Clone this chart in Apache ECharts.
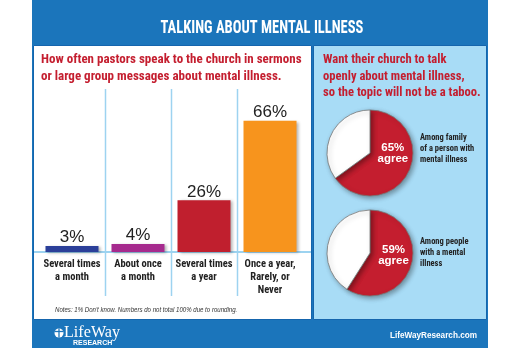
<!DOCTYPE html>
<html><head><meta charset="utf-8">
<script src="https://cdn.jsdelivr.net/npm/echarts@6/dist/echarts.min.js"></script>
<style>html,body{margin:0;padding:0;background:#fff}#c{width:520px;height:350px}</style>
</head><body><div id="c"></div>
<script>
// ---- data ----
const titleText = 'TALKING ABOUT MENTAL ILLNESS';
const leftHeading = 'How often pastors speak to the church in sermons\nor large group messages about mental illness.';
const rightHeading = 'Want their church to talk\nopenly about mental illness,\nso the topic will not be a taboo.';
const categories = ['Several times\na month', 'About once\na month', 'Several times\na year', 'Once a year,\nRarely, or\nNever'];
const barValues = [3, 4, 26, 66];
const barColors = ['#2b3f99', '#a62a8e', '#c01f2e', '#f7941d'];
const pieGroups = ['Among family\nof a person with\nmental illness', 'Among people\nwith a mental\nillness'];
const agreeValues = [65, 59];
const noteText = "Notes: 1% Don't know. Numbers do not total 100% due to rounding.";
const footerUrl = 'LifeWayResearch.com';

const COND = '"Roboto Condensed"';
const RED = '#c41e2f';
const BLUE = '#1b75bb';
const LIGHT = '#a8dcf6';
const SEP = '#9dd3f0';

const chart = echarts.init(document.getElementById('c'), null, {renderer: 'canvas'});

const pieCenters = [[370, 153], [370, 253]];
const pieLabelOffsets = [[1, -11], [0, -5]];
const pieTextTops = [132.5, 236.5];

function pieSeries(i) {
  return {
    type: 'pie', center: pieCenters[i], radius: 43, startAngle: 90, clockwise: true,
    silent: true, animation: false, z: 5,
    itemStyle: {borderColor: '#777', borderWidth: 0.8, shadowColor: 'rgba(0,0,0,0.35)', shadowBlur: 5, shadowOffsetX: 2, shadowOffsetY: 2},
    labelLine: {show: false},
    data: [
      {value: agreeValues[i], name: 'agree', itemStyle: {color: '#c41e2f'},
       label: {show: true, position: 'inside', offset: pieLabelOffsets[i], formatter: '{c}%\nagree', color: '#fff',
               fontFamily: 'Arial, "Liberation Sans", sans-serif', fontWeight: 'bold', fontSize: 11.5, lineHeight: 11, align: 'center'}},
      {value: 100 - agreeValues[i], name: 'other', itemStyle: {color: '#ffffff'}, label: {show: false}}
    ]
  };
}

function txt(x, y, text, font, fill, opts) {
  opts = opts || {};
  return {type: 'text', z: 50, x: x, y: y, scaleX: opts.scaleX || 1,
          style: {text: text, font: font, fill: fill, lineHeight: opts.lineHeight, align: opts.align || 'left', verticalAlign: 'top'}};
}

const baseGraphics = [
  {type: 'rect', z: -20, shape: {x: 32, y: 0, width: 456, height: 348}, style: {fill: BLUE}},
  {type: 'rect', z: -19, shape: {x: 33.5, y: 45.5, width: 278, height: 274}, style: {fill: '#ffffff', stroke: '#1565ad', lineWidth: 1}},
  {type: 'rect', z: -19, shape: {x: 313.5, y: 45.5, width: 173, height: 274}, style: {fill: LIGHT, stroke: '#1565ad', lineWidth: 1}},
  {type: 'line', z: -5, shape: {x1: 34, y1: 252, x2: 311, y2: 252}, style: {stroke: SEP, lineWidth: 2}},
  txt(262, 18.5, titleText, 'bold 17.5px ' + COND, '#fff', {scaleX: 0.83, align: 'center', lineHeight: 21}),
  txt(41, 51.5, leftHeading, 'bold 13px ' + COND, RED, {lineHeight: 17}),
  txt(323, 51.75, rightHeading, 'bold 12.6px ' + COND, RED, {lineHeight: 16.5}),
  txt(420, pieTextTops[0], pieGroups[0], 'bold 9.5px ' + COND, '#222', {scaleX: 0.89, lineHeight: 11}),
  txt(420, pieTextTops[1], pieGroups[1], 'bold 9.5px ' + COND, '#222', {scaleX: 0.89, lineHeight: 11}),
  txt(55, 306.5, noteText, 'italic 7px "Liberation Sans", Arial, sans-serif', '#333', {scaleX: 0.87, lineHeight: 7}),
  txt(477, 331.5, footerUrl, 'bold 8.2px "Liberation Sans", Arial, sans-serif', '#fff', {align: 'right', lineHeight: 9}),
  // logo
  {type: 'circle', z: 50, shape: {cx: 59, cy: 333, r: 4.5}, style: {fill: '#fff'}},
  {type: 'line', z: 51, shape: {x1: 59, y1: 328.5, x2: 59, y2: 337.5}, style: {stroke: BLUE, lineWidth: 1.3}},
  {type: 'line', z: 51, shape: {x1: 54.5, y1: 331.5, x2: 63.5, y2: 331.5}, style: {stroke: BLUE, lineWidth: 1.3}},
  txt(64, 324, 'LifeWay', '17px "Liberation Serif", "DejaVu Serif", serif', '#fff', {scaleX: 0.95, lineHeight: 18}),
  txt(73, 339.5, 'RESEARCH', 'bold 7px "Liberation Sans", Arial, sans-serif', '#fff', {lineHeight: 7})
];

const option = {
  animation: false,
  backgroundColor: '#ffffff',
  grid: {left: 39, right: 217, top: 89, bottom: 98, containLabel: false},
  xAxis: {type: 'category', data: categories,
          axisLine: {lineStyle: {color: SEP, width: 2}}, axisTick: {show: false},
          axisLabel: {color: '#222', fontSize: 10.5, fontWeight: 'bold', fontFamily: COND, lineHeight: 13, margin: 6, interval: 0}},
  yAxis: {type: 'value', min: 0, max: 82, show: false},
  series: [
    {type: 'bar', barWidth: 53, z: 3, data: barValues.map((v, i) => ({value: v, itemStyle: {color: barColors[i]}})),
     itemStyle: {shadowColor: 'rgba(0,0,0,0.3)', shadowBlur: 3, shadowOffsetX: 2, shadowOffsetY: 1},
     label: {show: true, position: 'top', distance: 0, formatter: '{c}%', color: '#222', fontSize: 17,
             fontFamily: 'Arial, "Liberation Sans", sans-serif'}},
    pieSeries(0), pieSeries(1)
  ],
  graphic: {elements: baseGraphics}
};
chart.setOption(option);

// category separators computed from the axis scale
const seps = [];
for (let i = 0; i < categories.length - 1; i++) {
  const a = chart.convertToPixel({xAxisIndex: 0}, categories[i]);
  const b = chart.convertToPixel({xAxisIndex: 0}, categories[i + 1]);
  const x = Math.round((a + b) / 2) + 0.5;
  seps.push({type: 'line', z: -4, shape: {x1: x, y1: 89, x2: x, y2: 296}, style: {stroke: SEP, lineWidth: 1.5}});
}
chart.setOption({graphic: {elements: baseGraphics.concat(seps)}});
</script></body></html>
